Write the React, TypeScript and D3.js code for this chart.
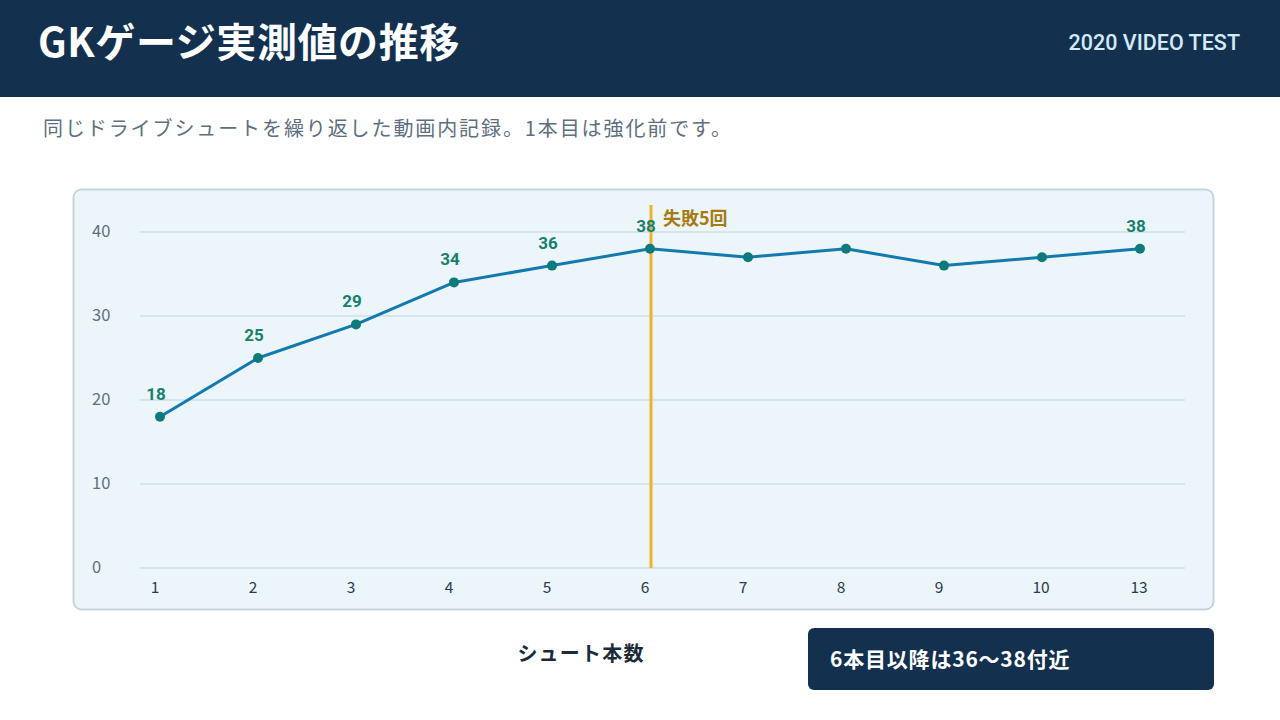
import * as d3 from "d3";

// shots recorded in the video (x axis keeps the original shot numbers)
const shotLabels = ["1", "2", "3", "4", "5", "6", "7", "8", "9", "10", "13"];
const gaugeValues = [18, 25, 29, 34, 36, 38, 37, 38, 36, 37, 38];
// which points get a value label above them
const labeledShots = ["1", "2", "3", "4", "5", "6", "13"];
const yTicks = [0, 10, 20, 30, 40];
const markerShot = "6";
const markerText = "失敗5回";

const W = 1280;
const H = 720;
const JP = "'Noto Sans CJK JP', 'Noto Sans', sans-serif";

const NAVY = "#13314f";
const LINE = "#1479b0";
const DOT = "#0f7a7c";
const LABEL = "#16806c";
const GOLD = "#eeb22e";

export default function App() {
  const x = d3.scalePoint<string>().domain(shotLabels).range([160, 1140]);
  const y = d3.scaleLinear().domain([0, 40]).range([568, 232]);

  const pts = shotLabels.map((s, i) => ({ s, v: gaugeValues[i] }));
  const line = d3
    .line<{ s: string; v: number }>()
    .x((d) => x(d.s) ?? 0)
    .y((d) => y(d.v));

  const mx = (x(markerShot) ?? 0) + 1;

  return (
    <svg
      width={W}
      height={H}
      viewBox={`0 0 ${W} ${H}`}
      style={{ position: "fixed", left: 0, top: 0, background: "#fff" }}
      fontFamily={JP}
    >
      {/* header band */}
      <rect x={0} y={0} width={W} height={97} fill={NAVY} />
      <text x={38} y={57} fill="#fff" fontSize={40} fontWeight={700} letterSpacing={0.6}>
        GKゲージ実測値の推移
      </text>
      <text
        x={1240}
        y={50}
        fill="#d4eaf6"
        fontSize={21.5}
        fontWeight={500}
        textAnchor="end"
        fontFamily="Roboto, sans-serif"
      >
        2020 VIDEO TEST
      </text>
      <text x={43} y={136} fill="#5d6f80" fontSize={20} letterSpacing={1.9}>
        同じドライブシュートを繰り返した動画内記録。1本目は強化前です。
      </text>

      {/* chart panel */}
      <rect
        x={73.5}
        y={189.5}
        width={1140}
        height={420}
        rx={8}
        fill="#ecf6fa"
        stroke="#c6d4df"
        strokeWidth={2}
      />

      {yTicks.map((t) => (
        <g key={t}>
          <line x1={140} x2={1185} y1={y(t)} y2={y(t)} stroke="#c5d3de" strokeWidth={1} />
          <text x={92} y={y(t) + 5} fill="#5d6f80" fontSize={16.5}>
            {t}
          </text>
        </g>
      ))}

      {shotLabels.map((s) => (
        <text
          key={s}
          x={(x(s) ?? 0) - (s.length > 1 ? 1 : 5)}
          y={593}
          fill="#2b3b4b"
          fontSize={15.5}
          textAnchor="middle"
        >
          {s}
        </text>
      ))}

      {/* marker for the 6th shot */}
      <line x1={mx} x2={mx} y1={205} y2={568} stroke={GOLD} strokeWidth={3} />

      <path d={line(pts) ?? ""} fill="none" stroke={LINE} strokeWidth={3} strokeLinejoin="round" />
      {pts.map((d) => (
        <circle key={d.s} cx={x(d.s)} cy={y(d.v)} r={5} fill={DOT} />
      ))}
      {pts
        .filter((d) => labeledShots.includes(d.s))
        .map((d) => (
          <text
            key={d.s}
            x={(x(d.s) ?? 0) - 4}
            y={y(d.v) - 17}
            fill={LABEL}
            fontSize={17}
            fontWeight={700}
            textAnchor="middle"
            fontFamily="Roboto, sans-serif"
          >
            {d.v}
          </text>
        ))}

      <text x={mx + 12} y={225} fill="#a77a12" fontSize={18} fontWeight={700}>
        {markerText}
      </text>

      <text
        x={581}
        y={661}
        fill="#1c2b3a"
        fontSize={20}
        fontWeight={700}
        textAnchor="middle"
        letterSpacing={1.2}
      >
        シュート本数
      </text>

      {/* takeaway callout */}
      <rect x={808} y={628} width={406} height={62} rx={6} fill={NAVY} />
      <text x={830} y={667} fill="#fff" fontSize={21} fontWeight={700} letterSpacing={0.8}>
        6本目以降は36〜38付近
      </text>
    </svg>
  );
}
